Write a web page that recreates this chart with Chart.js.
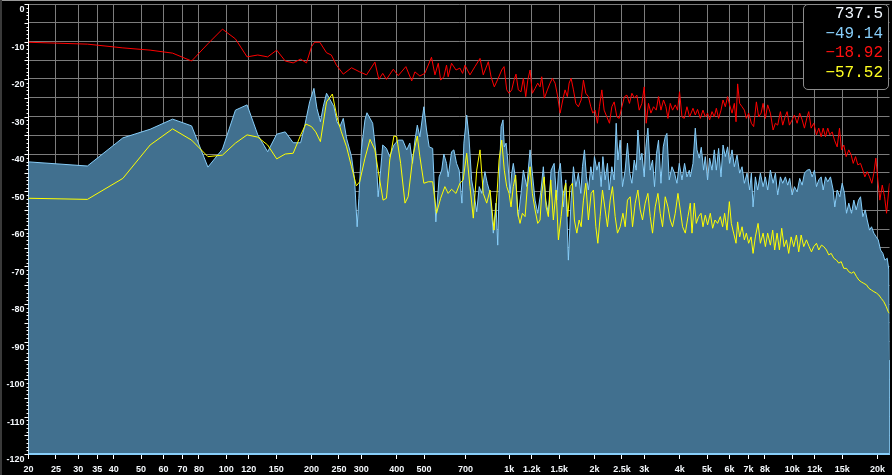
<!DOCTYPE html>
<html>
<head>
<meta charset="utf-8">
<script src="https://cdn.jsdelivr.net/npm/chart.js@4.4.1/dist/chart.umd.min.js"></script>
<style>
  html, body { margin: 0; padding: 0; background: #000; overflow: hidden; }
  #wrap { position: relative; width: 892px; height: 475px; }
  #spectrum { position: absolute; left: 0; top: 0; }
  .edge-top { position: absolute; left: 0; top: 0; width: 892px; height: 1px; background: #9a9a9a; }
  .edge-left { position: absolute; left: 0; top: 0; width: 2px; height: 475px; background: #3a3a3a; }
  #readout {
    position: absolute; left: 803px; top: 4px; width: 86px; height: 86px;
    box-sizing: border-box; border: 1px solid #8c8c8c; border-radius: 5px; background: #000;
    padding: 0 5px 0 0; text-align: right;
    font: 16px "Liberation Mono", "DejaVu Sans Mono", monospace; line-height: 19.7px;
  }
</style>
</head>
<body>
<div id="wrap">
  <canvas id="spectrum" width="892" height="475"></canvas>
  <div class="edge-top"></div>
  <div class="edge-left"></div>
  <div id="readout"></div>
</div>
<script>
// ---- Axis ticks ----
const freqTicks = [20, 25, 30, 35, 40, 50, 60, 70, 80, 100, 120, 150, 200, 250, 300, 400, 500, 700,
  1000, 1200, 1500, 2000, 2500, 3000, 4000, 5000, 6000, 7000, 8000, 10000, 12000, 15000, 20000];
const yMin = -120;
const yMax = 0;

// ---- Readout box (top right) ----
const readouts = ['737.5', '\u221249.14', '\u221218.92', '\u221257.52'];
const readoutColors = ['#f2f8ff', '#87cefa', '#ff1010', '#ffff20'];

// ---- Peak spectrum (filled, light blue edge) ----
const peakHz = [20, 32.3, 43.1, 53.8, 64.6, 75.4, 86.1, 96.9, 107.7, 118.4, 129.2, 140, 150.7, 161.5, 172.3, 183,
  189, 197, 204, 209, 215, 220, 226, 233, 240, 246, 252, 259, 266, 277, 284, 290, 294, 300, 309, 314, 329, 338,
  344, 351, 357, 368, 378, 391, 405, 420, 434, 445, 455, 464, 473, 483, 499, 510, 521, 536, 550, 565, 577, 587,
  600, 608, 625, 637, 651, 665, 680, 691, 707, 720, 736, 750, 767, 783, 799, 820, 836, 855, 878, 897, 910, 920,
  935, 950, 960, 974, 987, 1006, 1020, 1033, 1053, 1076, 1100, 1121, 1152, 1184, 1210, 1233, 1260, 1292, 1319,
  1345, 1374, 1405, 1440, 1471, 1491, 1515, 1553, 1583, 1617, 1653, 1685, 1718, 1754, 1789, 1813, 1843, 1873,
  1903, 1941, 1973, 1999, 2038, 2077, 2111, 2141, 2181, 2222, 2254, 2303, 2347, 2386, 2419, 2465, 2511, 2567,
  2615, 2665, 2711, 2763, 2808, 2847, 2901, 2941, 2997, 3038, 3088, 3147, 3207, 3259, 3313, 3367, 3434, 3499,
  3556, 3605, 3674, 3756, 3836, 3911, 3986, 4075, 4162, 4243, 4325, 4360, 4457, 4541, 4604, 4692, 4768, 4859,
  4926, 5019, 5102, 5203, 5302, 5389, 5490, 5598, 5691, 5798, 5907, 6005, 6124, 6240, 6378, 6515, 6644, 6770,
  6919, 7068, 7167, 7267, 7404, 7543, 7712, 7884, 8032, 8184, 8366, 8553, 8714, 8878, 9077, 9249, 9454, 9632,
  9791, 9985, 10174, 10398, 10622, 10833, 11038, 11281, 11524, 11752, 11975, 12172, 12400, 12646, 12854, 13097,
  13344, 13641, 13945, 14128, 14405, 14715, 15006, 15290, 15542, 15833, 16188, 16494, 16817, 17135, 17419, 17750,
  18102, 18394, 18746, 19052, 19413, 19793, 20120, 20502, 20892, 21234, 21650, 21935, 22050];
const peakDb = [-42.1, -43.2, -35.7, -33.4, -30.7, -32.5, -43.5, -38.7, -28.3, -26.9, -34.9, -39.4, -34.7, -34.1, -37.0, -37.0,
  -32.7, -26.1, -22.5, -27.8, -31.4, -27.4, -23.8, -25.6, -27.4, -31.4, -32.7, -30.5, -35.8, -40.7, -46.9, -59.4, -51.8, -38.9, -30.9, -29.0, -31.8, -39.8,
  -51.4, -44.3, -37.6, -38.5, -40.7, -37.6, -36.3, -36.3, -38.9, -37.1, -42.5, -36.3, -32.3, -35.4, -27.4, -33.6, -38.1, -38.5, -58.1, -46.1, -44.3, -40.0,
  -42.5, -46.1, -39.4, -38.9, -42.5, -44.3, -53.1, -37.1, -29.6, -35.4, -46.9, -50.5, -55.4, -48.7, -50.5, -44.7, -47.8, -50.5, -61.1, -53.1, -64.3, -49.6,
  -32.7, -30.9, -38.1, -37.1, -41.6, -50.5, -45.1, -42.5, -46.9, -56.7, -50.5, -44.3, -48.7, -38.9, -46.1, -52.3, -55.8, -50.1, -43.4,
  -52.3, -55.8, -44.3, -42.5, -52.3, -45.1, -42.5, -54.1, -46.9, -68.3, -52.3, -43.4, -48.7, -45.1, -50.5, -43.4, -38.9, -46.1,
  -49.6, -43.4, -46.9, -40.7, -44.3, -42.1, -48.7, -40.7, -46.9, -42.5, -49.6, -43.4, -46.9, -31.8, -41.6, -36.3, -48.7, -44.3,
  -37.1, -45.1, -47.8, -41.6, -44.3, -33.6, -41.6, -39.8, -46.1, -38.1, -33.1, -44.3, -41.6, -48.7, -39.8, -36.3, -47.8, -38.1,
  -35.4, -34.5, -46.9, -43.4, -45.1, -47.8, -42.5, -46.9, -42.5, -46.1, -44.3, -46.1, -42.5, -33.1, -38.9, -41.1, -38.2, -44.3,
  -40.7, -46.9, -41.1, -44.3, -38.9, -44.3, -38.5, -46.1, -37.6, -40.7, -38.1, -42.5, -38.9, -43.4, -40.3, -45.1, -43.4, -47.8,
  -45.1, -49.6, -45.1, -54.1, -46.1, -49.6, -45.1, -48.7, -46.1, -49.6, -44.3, -47.8, -45.1, -50.9, -46.1, -47.8, -46.1, -48.3,
  -46.5, -50.9, -48.7, -50.1, -46.5, -48.3, -45.1, -44.3, -44.1, -46.1, -44.3, -48.7, -46.9, -46.1, -49.6, -46.1,
  -47.4, -46.1, -49.6, -54.1, -49.6, -51.4, -47.8, -50.5, -55.8, -53.1, -55.8, -52.3, -54.9, -52.3, -51.4, -56.7,
  -54.9, -57.6, -60.3, -59.4, -61.1, -62.1, -62.9, -65.6, -66.5, -68.3, -67.8, -70.9, -95.0];

// ---- Average spectrum (yellow) ----
const avgHz = [20, 32.3, 43.1, 53.8, 64.6, 75.4, 86.1, 96.9, 107.7, 118.4, 129.2, 140, 150.7, 161.5, 172.3, 183,
  191, 200, 207, 215, 226, 237, 246, 255, 266, 277, 288, 296, 309, 322, 335, 347, 358, 368, 378, 391, 400, 413,
  428, 439, 457, 473, 483, 499, 517, 536, 553, 572, 592, 608, 625, 648, 669, 687, 707, 726, 746, 767, 788, 809,
  832, 855, 883, 905, 920, 940, 960, 979, 998, 1014, 1033, 1053, 1071, 1091, 1112, 1137, 1158, 1184, 1206, 1233,
  1260, 1284, 1302, 1327, 1349, 1374, 1401, 1431, 1463, 1491, 1524, 1553, 1583, 1609, 1640, 1671, 1698, 1732,
  1765, 1794, 1828, 1863, 1903, 1946, 1983, 2022, 2055, 2094, 2134, 2181, 2222, 2272, 2315, 2366, 2411, 2465,
  2520, 2567, 2615, 2674, 2725, 2785, 2847, 2901, 2956, 3021, 3088, 3147, 3207, 3278, 3351, 3414, 3479, 3556,
  3635, 3704, 3774, 3858, 3944, 4018, 4095, 4186, 4278, 4360, 4421, 4504, 4578, 4664, 4757, 4835, 4926, 5019,
  5131, 5229, 5332, 5445, 5567, 5672, 5765, 5878, 5991, 6089, 6204, 6326, 6409, 6515, 6644, 6770, 6881, 7010,
  7149, 7267, 7404, 7568, 7712, 7884, 8032, 8184, 8366, 8525, 8665, 8835, 9004, 9174, 9354, 9532, 9711, 9903,
  10116, 10341, 10535, 10744, 10975, 11219, 11468, 11685, 11906, 12172, 12400, 12677, 12917, 13205, 13453, 13719,
  14013, 14326, 14594, 14883, 15203, 15542, 15833, 16188, 16494, 16862, 17178, 17518, 17895, 18293, 18637, 19052,
  19413, 19846, 20218, 20619, 21062, 21474, 21828, 22050];
const avgDb = [-51.8, -52.1, -46.5, -37.6, -33.3, -36.3, -40.7, -40.3, -37.1, -34.9, -35.5, -37.6, -41.3, -40.0, -39.8, -35.0,
  -32.0, -32.7, -34.1, -36.7, -26.1, -24.0, -30.1, -34.1, -38.1, -43.4, -48.5, -47.4, -41.1, -36.1, -38.9, -46.1, -52.3, -51.8, -41.6, -35.2, -35.4, -42.5,
  -53.1, -51.4, -40.3, -35.2, -40.7, -47.8, -47.4, -47.4, -55.8, -51.8, -48.7, -50.5, -49.4, -50.5, -47.8, -46.9, -39.8, -48.7, -57.1, -44.3, -38.9, -50.5,
  -53.1, -49.6, -60.3, -50.5, -41.6, -36.3, -44.3, -48.7, -50.5, -54.1, -48.7, -45.6, -55.8, -58.5, -55.8, -56.7, -48.7, -43.4, -50.5, -54.9,
  -58.5, -57.6, -50.5, -46.1, -54.1, -56.7, -46.9, -57.6, -49.6, -62.9, -56.7, -50.5, -47.8, -56.7, -48.7, -47.8, -57.6, -61.1,
  -57.6, -59.4, -52.3, -47.8, -57.6, -50.5, -49.6, -59.4, -63.8, -56.7, -49.6, -54.9, -59.4, -52.3, -48.7, -56.7, -61.1, -59.4,
  -55.8, -59.4, -52.3, -51.4, -59.4, -53.1, -49.6, -54.9, -57.6, -53.1, -50.5, -56.7, -61.1, -54.1, -50.5, -55.8, -59.4, -51.4,
  -54.1, -57.6, -59.4, -55.8, -50.5, -54.9, -59.4, -61.1, -56.7, -53.1, -61.1, -53.1, -58.5, -56.7, -55.8, -59.4, -56.3, -58.9,
  -55.8, -59.8, -57.6, -58.5, -56.7, -59.4, -55.8, -60.3, -52.7, -58.5, -61.1, -63.8, -58.1, -62.1, -59.4, -62.9, -61.1, -63.8,
  -62.1, -66.5, -62.1, -58.5, -63.8, -61.1, -64.7, -61.1, -64.3, -60.3, -65.6, -61.1, -65.6, -59.8, -64.7, -62.9, -66.5, -62.1,
  -64.7, -61.6, -66.1, -61.6, -64.7, -62.9, -64.7, -66.1, -64.7, -63.8, -65.6, -64.3, -64.7, -65.6, -66.9, -66.5,
  -67.8, -68.3, -69.1, -68.7, -70.5, -70.5, -71.4, -71.8, -71.4, -72.7, -73.6, -74.1, -74.5, -74.9, -75.8, -76.3,
  -76.7, -77.1, -77.6, -78.5, -79.4, -80.7, -82.1, -82.5];

// ---- Max hold (red) ----
const maxHz = [20, 32.3, 43.1, 53.8, 64.6, 75.4, 86.1, 96.9, 107.7, 118.4, 129.2, 140, 150.7, 161.5, 172.3, 183,
  192, 200, 205, 214, 226, 235, 245, 259, 277, 296, 313, 335, 346, 357, 368, 389, 405, 431, 452, 464, 483, 503,
  531, 546, 561, 572, 587, 600, 608, 625, 648, 669, 684, 697, 726, 756, 788, 809, 843, 862, 885, 914, 940, 958,
  979, 998, 1020, 1039, 1056, 1076, 1100, 1121, 1143, 1162, 1184, 1206, 1233, 1260, 1284, 1302, 1330, 1363, 1393,
  1420, 1451, 1479, 1512, 1545, 1574, 1604, 1627, 1653, 1685, 1718, 1754, 1794, 1828, 1863, 1903, 1941, 1973,
  2010, 2048, 2082, 2123, 2163, 2211, 2259, 2303, 2347, 2399, 2445, 2499, 2552, 2603, 2658, 2711, 2769, 2823,
  2877, 2941, 2997, 3046, 3103, 3165, 3233, 3305, 3367, 3434, 3507, 3576, 3635, 3704, 3774, 3858, 3931, 3995,
  4075, 4152, 4243, 4335, 4457, 4541, 4626, 4730, 4835, 4926, 5019, 5102, 5203, 5302, 5389, 5490, 5598, 5691,
  5798, 5907, 6005, 6124, 6240, 6326, 6409, 6515, 6644, 6770, 6881, 7010, 7167, 7302, 7465, 7605, 7756, 7884,
  8032, 8184, 8366, 8553, 8714, 8878, 9077, 9249, 9431, 9585, 9768, 9985, 10174, 10398, 10622, 10833, 11038,
  11281, 11430, 11656, 11906, 12172, 12400, 12646, 12854, 13097, 13344, 13564, 13832, 14094, 14405, 14680, 14920,
  15203, 15501, 15833, 16148, 16414, 16724, 17039, 17419, 17750, 18041, 18394, 18746, 19099, 19413, 19730, 20053,
  20384, 20789, 21183, 21531, 21884, 22050];
const maxDb = [-10.2, -10.7, -11.7, -12.3, -13.1, -15.2, -10.6, -6.7, -9.3, -14.1, -13.6, -14.1, -12.3, -15.2, -15.7, -14.7,
  -15.7, -11.4, -10.2, -10.2, -13.0, -13.6, -16.3, -18.7, -17.0, -18.1, -18.9, -15.5, -20.1, -18.5, -20.1, -17.4, -19.1, -16.7, -20.5, -18.1, -19.2, -18.5,
  -14.2, -18.9, -15.8, -20.3, -19.4, -16.3, -19.4, -15.8, -17.6, -17.1, -18.5, -16.3, -18.9, -16.7, -14.5, -18.9, -15.4, -19.4, -22.1, -19.8, -17.6, -16.7,
  -22.9, -23.8, -22.9, -20.3, -18.7, -22.9, -23.4, -19.8, -24.7, -20.3, -17.6, -23.8, -22.5, -21.1, -22.1, -19.4, -25.1, -22.9, -21.1,
  -19.8, -21.1, -24.3, -29.1, -25.6, -22.9, -24.7, -21.1, -19.8, -22.9, -26.5, -27.4, -25.6, -20.3, -23.8, -24.7, -27.4, -29.1,
  -28.3, -31.8, -27.4, -22.9, -28.3, -30.1, -31.8, -27.4, -26.1, -30.1, -30.5, -27.4, -24.7, -24.3, -26.5, -23.8, -25.1, -24.3,
  -28.3, -26.5, -22.1, -31.8, -26.5, -29.1, -27.4, -28.3, -24.7, -28.3, -25.6, -27.4, -30.5, -26.5, -28.3, -26.9, -28.3, -23.4,
  -30.1, -30.5, -27.4, -30.1, -27.8, -29.6, -28.1, -30.5, -28.3, -30.1, -29.1, -30.9, -28.7, -30.1, -27.8, -30.5, -28.3, -25.6,
  -27.4, -24.7, -26.9, -29.1, -26.5, -31.4, -21.3, -26.5, -27.4, -28.3, -30.5, -29.1, -31.8, -32.7, -26.1, -30.1, -29.1, -26.5,
  -30.5, -26.9, -29.1, -33.6, -31.8, -32.3, -28.7, -32.3, -30.1, -28.7, -32.3, -30.9, -29.6, -31.8, -29.1, -30.9, -33.1,
  -30.1, -28.7, -33.1, -31.8, -34.9, -33.1, -35.4, -33.1, -35.4, -33.1, -34.9, -34.1, -36.3, -38.1, -33.1, -38.9,
  -37.6, -40.7, -38.9, -40.3, -42.5, -40.7, -42.9, -42.5, -44.3, -46.1, -44.7, -46.1, -47.8, -45.1, -41.1, -46.9,
  -52.3, -48.3, -51.4, -55.8, -50.1, -47.8];

// ---- Helpers ----
function toPoints(hz, db) {
  return hz.map((f, i) => ({ x: f, y: db[i] }));
}

function formatHz(v) {
  return v >= 1000 ? (v / 1000) + 'k' : String(v);
}

// readout text
document.getElementById('readout').innerHTML = readouts
  .map((t, i) => `<div style="color:${readoutColors[i]}">${t}</div>`).join('');

// close the peak polygon down to the floor so its edge is outlined like the analyser does
const peakPoints = [{ x: peakHz[0], y: yMin }, ...toPoints(peakHz, peakDb), { x: peakHz[peakHz.length - 1], y: yMin }];

// ---- Small 1 dB ticks on the level axis + floor line ----
const axisDecor = {
  id: 'axisDecor',
  afterDraw(chart) {
    const { ctx, scales: { x, y } } = chart;
    ctx.save();
    ctx.strokeStyle = '#ffffff';
    ctx.lineWidth = 1;
    ctx.beginPath();
    for (let v = yMin; v <= yMax; v++) {
      const py = Math.round(y.getPixelForValue(v)) + 0.5;
      const len = v % 5 === 0 ? 4 : 2;
      ctx.moveTo(y.right - len, py);
      ctx.lineTo(y.right, py);
    }
    ctx.stroke();
    ctx.strokeStyle = '#87cefa';
    ctx.beginPath();
    const floor = Math.round(y.getPixelForValue(yMin)) - 0.5;
    ctx.moveTo(x.left, floor);
    ctx.lineTo(x.right, floor);
    ctx.stroke();
    ctx.restore();
  }
};

const tickFont = { family: '"Liberation Sans", Arial, sans-serif', size: 9, weight: 'bold' };
const tickColor = '#f4f8fc';
const gridColor = '#7c7c7c';

new Chart(document.getElementById('spectrum'), {
  type: 'line',
  data: {
    datasets: [
      { label: 'max', data: toPoints(maxHz, maxDb), borderColor: '#ff0000', borderWidth: 1, pointRadius: 0, fill: false, order: 1 },
      { label: 'avg', data: toPoints(avgHz, avgDb), borderColor: '#ffff00', borderWidth: 1, pointRadius: 0, fill: false, order: 2 },
      { label: 'peak', data: peakPoints, borderColor: '#87cefa', backgroundColor: '#41708f', borderWidth: 1, pointRadius: 0, fill: 'start', order: 3 }
    ]
  },
  options: {
    responsive: false,
    devicePixelRatio: 1,
    animation: false,
    events: [],
    layout: { padding: { top: 4, right: 2.5, left: 0, bottom: 0 } },
    plugins: { legend: { display: false }, tooltip: { enabled: false } },
    elements: { line: { tension: 0 } },
    scales: {
      x: {
        type: 'logarithmic',
        min: 20,
        max: 22050,
        afterBuildTicks: (scale) => { scale.ticks = freqTicks.map(v => ({ value: v })); },
        afterFit: (scale) => { scale.height = 21; scale.paddingLeft = 0; scale.paddingRight = 0; },
        grid: { color: gridColor, tickColor: '#ffffff', tickLength: 5, lineWidth: 1 },
        border: { color: '#87cefa' },
        ticks: {
          autoSkip: false, maxRotation: 0, minRotation: 0, padding: 5,
          color: tickColor, font: tickFont,
          callback: (v) => formatHz(v)
        }
      },
      y: {
        type: 'linear',
        min: yMin,
        max: yMax,
        afterBuildTicks: (scale) => {
          const t = [];
          for (let v = yMin; v <= yMax; v += 5) t.push({ value: v });
          scale.ticks = t;
        },
        afterFit: (scale) => { scale.width = 28.5; scale.paddingTop = 0; scale.paddingBottom = 0; },
        grid: { color: gridColor, drawTicks: false, lineWidth: 1 },
        border: { color: '#ffffff' },
        ticks: {
          padding: 4, labelOffset: 6,
          color: tickColor, font: tickFont,
          callback: (v) => (v % 10 === 0 ? String(v) : '')
        }
      }
    }
  },
  plugins: [axisDecor]
});
</script>
</body>
</html>
